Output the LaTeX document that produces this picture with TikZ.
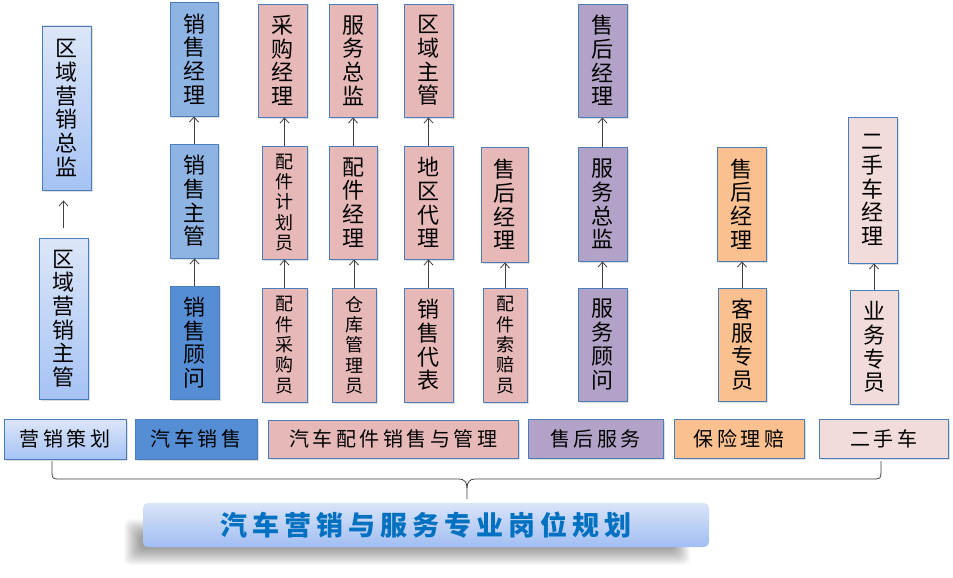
\documentclass[tikz,border=0pt]{standalone}
\usepackage{fontspec}
\setmainfont{Noto Sans CJK SC}
\usetikzlibrary{shadows,arrows.meta}
\definecolor{bordc}{HTML}{4A7EBB}
\definecolor{gtop}{HTML}{DCE6F8}
\definecolor{gbot}{HTML}{A6C3F5}
\definecolor{midblue}{HTML}{8EB4E3}
\definecolor{darkblue}{HTML}{558ED5}
\definecolor{pinkc}{HTML}{E6B9B8}
\definecolor{purplec}{HTML}{B3A2C7}
\definecolor{orangec}{HTML}{FAC090}
\definecolor{lpinkc}{HTML}{F2DCDB}
\definecolor{arrc}{HTML}{404040}
\definecolor{titlec}{HTML}{0070C0}
\definecolor{ttop}{HTML}{DAE4F7}
\definecolor{tbot}{HTML}{A0BEF3}
\newcommand\myg{\kern3.5pt}
\newcommand\myG{\kern5pt}
\newcommand\mybox[7]{%
  \pgfmathsetmacro\cx{(#2+#4)/2}\pgfmathsetmacro\cy{(#3+#5)/2}%
  \pgfmathsetmacro\ww{#4-#2}\pgfmathsetmacro\hh{#5-#3}%
  \node[bx,#6,minimum width=\ww pt,minimum height=\hh pt] (#1) at (\cx,\cy) {#7};}
\tikzset{
  bx/.style={draw=bordc, line width=0.9pt, inner sep=0pt, align=center,
    drop shadow={shadow xshift=1.5pt, shadow yshift=-1.5pt, opacity=0.25}},
  big/.style={font=\fontsize{22pt}{23.7pt}\selectfont},
  small/.style={font=\fontsize{18pt}{20.3pt}\selectfont},
  lab/.style={font=\fontsize{20pt}{22pt}\selectfont},
  grad/.style={top color=gtop, bottom color=gbot},
  mb/.style={fill=midblue},
  db/.style={fill=darkblue},
  pk/.style={fill=pinkc},
  pu/.style={fill=purplec},
  og/.style={fill=orangec},
  lp/.style={fill=lpinkc},
  arr/.style={draw=arrc, line width=0.8pt, -{Straight Barb[length=5pt,width=9pt]}},
  brace/.style={draw=arrc, line width=0.8pt},
  softshadow/.style={fill=black, fill opacity=0.025, draw=none},
}
\begin{document}
\begin{tikzpicture}[x=1pt,y=-1pt]
\useasboundingbox[fill=white] (0,0) rectangle (953,578);
% column 1
\mybox{A1}{42}{26}{91}{190}{grad,big}{区\\域\\营\\销\\总\\监}
\mybox{A2}{39}{238}{88}{399}{grad,big}{区\\域\\营\\销\\主\\管}
\mybox{A0}{4}{419}{126}{459}{grad,lab}{营\myg 销\myg 策\myg 划}
% column 2
\mybox{B1}{170}{2}{218}{116}{mb,big}{销\\售\\经\\理}
\mybox{B2}{170}{144}{218}{258}{mb,big}{销\\售\\主\\管}
\mybox{B3}{170}{286}{219}{399}{db,big}{销\\售\\顾\\问}
\mybox{B0}{135}{419}{257}{459}{db,lab}{汽\myg 车\myg 销\myg 售}
% column 3
\mybox{C1}{258}{4}{307}{117}{pk,big}{采\\购\\经\\理}
\mybox{C2}{262}{146}{307}{259}{pk,small}{配\\件\\计\\划\\员}
\mybox{C3}{262}{288}{307}{402}{pk,small}{配\\件\\采\\购\\员}
\mybox{D1}{329}{4}{377}{117}{pk,big}{服\\务\\总\\监}
\mybox{D2}{329}{146}{377}{259}{pk,big}{配\\件\\经\\理}
\mybox{D3}{332}{288}{376}{402}{pk,small}{仓\\库\\管\\理\\员}
\mybox{E1}{404}{4}{453}{117}{pk,big}{区\\域\\主\\管}
\mybox{E2}{404}{146}{453}{259}{pk,big}{地\\区\\代\\理}
\mybox{E3}{404}{288}{453}{402}{pk,big}{销\\售\\代\\表}
\mybox{F2}{481}{147}{528}{262}{pk,big}{售\\后\\经\\理}
\mybox{F3}{483}{288}{527}{402}{pk,small}{配\\件\\索\\赔\\员}
\mybox{C0}{268}{420}{518}{458}{pk,lab}{汽\myg 车\myg 配\myg 件\myg 销\myg 售\myg 与\myg 管\myg 理}
% column 4
\mybox{G1}{578}{4}{627}{117}{pu,big}{售\\后\\经\\理}
\mybox{G2}{578}{147}{627}{261}{pu,big}{服\\务\\总\\监}
\mybox{G3}{578}{288}{627}{401}{pu,big}{服\\务\\顾\\问}
\mybox{G0}{528}{419}{663}{458}{pu,lab}{售\myg 后\myg 服\myg 务}
% column 5
\mybox{H2}{717}{147}{766}{261}{og,big}{售\\后\\经\\理}
\mybox{H3}{718}{288}{766}{401}{og,big}{客\\服\\专\\员}
\mybox{H0}{674}{419}{804}{458}{og,lab}{保\myg 险\myg 理\myg 赔}
% column 6
\mybox{I2}{848}{117}{897}{263}{lp,big}{二\\手\\车\\经\\理}
\mybox{I3}{850}{290}{898}{404}{lp,big}{业\\务\\专\\员}
\mybox{I0}{819}{419}{948}{458}{lp,lab}{二\myg 手\myg 车}
% arrows
\draw[arr, shorten <=10pt, shorten >=10pt] (A2.north) -- (A2.north |- A1.south);
\draw[arr] (B3.north) -- (B3.north |- B2.south);
\draw[arr] (B2.north) -- (B2.north |- B1.south);
\draw[arr] (C3.north) -- (C3.north |- C2.south);
\draw[arr] (C2.north) -- (C2.north |- C1.south);
\draw[arr] (D3.north) -- (D3.north |- D2.south);
\draw[arr] (D2.north) -- (D2.north |- D1.south);
\draw[arr] (E3.north) -- (E3.north |- E2.south);
\draw[arr] (E2.north) -- (E2.north |- E1.south);
\draw[arr] (F3.north) -- (F3.north |- F2.south);
\draw[arr] (G3.north) -- (G3.north |- G2.south);
\draw[arr] (G2.north) -- (G2.north |- G1.south);
\draw[arr] (H3.north) -- (H3.north |- H2.south);
\draw[arr] (I3.north) -- (I3.north |- I2.south);
% title shadow (soft, layered)
\foreach \r in {-8,-7,...,8}{
  \fill[softshadow, rounded corners=6pt] ({132-\r},{527-\r}) rectangle ({682+\r},{557+\r});
}
% title
\node[rounded corners=5pt, top color=ttop, bottom color=tbot, inner sep=0pt,
  minimum width=566pt, minimum height=44pt,
  font=\fontsize{27pt}{29pt}\selectfont\bfseries, text=titlec] (title) at (426,525)
  {汽\myG 车\myG 营\myG 销\myG 与\myG 服\myG 务\myG 专\myG 业\myG 岗\myG 位\myG 规\myG 划};
% brace
\coordinate (bl) at (52,461);
\coordinate (br) at (881,461);
\coordinate (bt) at (467,499);
\draw[brace] (bl) -- (52,472) .. controls (52,478) and (53,479) .. (58,479) -- (459,479)
  .. controls (464,479) and (467,482) .. (467,488) -- (bt);
\draw[brace] (br) -- (881,472) .. controls (881,478) and (880,479) .. (875,479) -- (475,479)
  .. controls (470,479) and (467,482) .. (467,488);
\end{tikzpicture}
\end{document}
